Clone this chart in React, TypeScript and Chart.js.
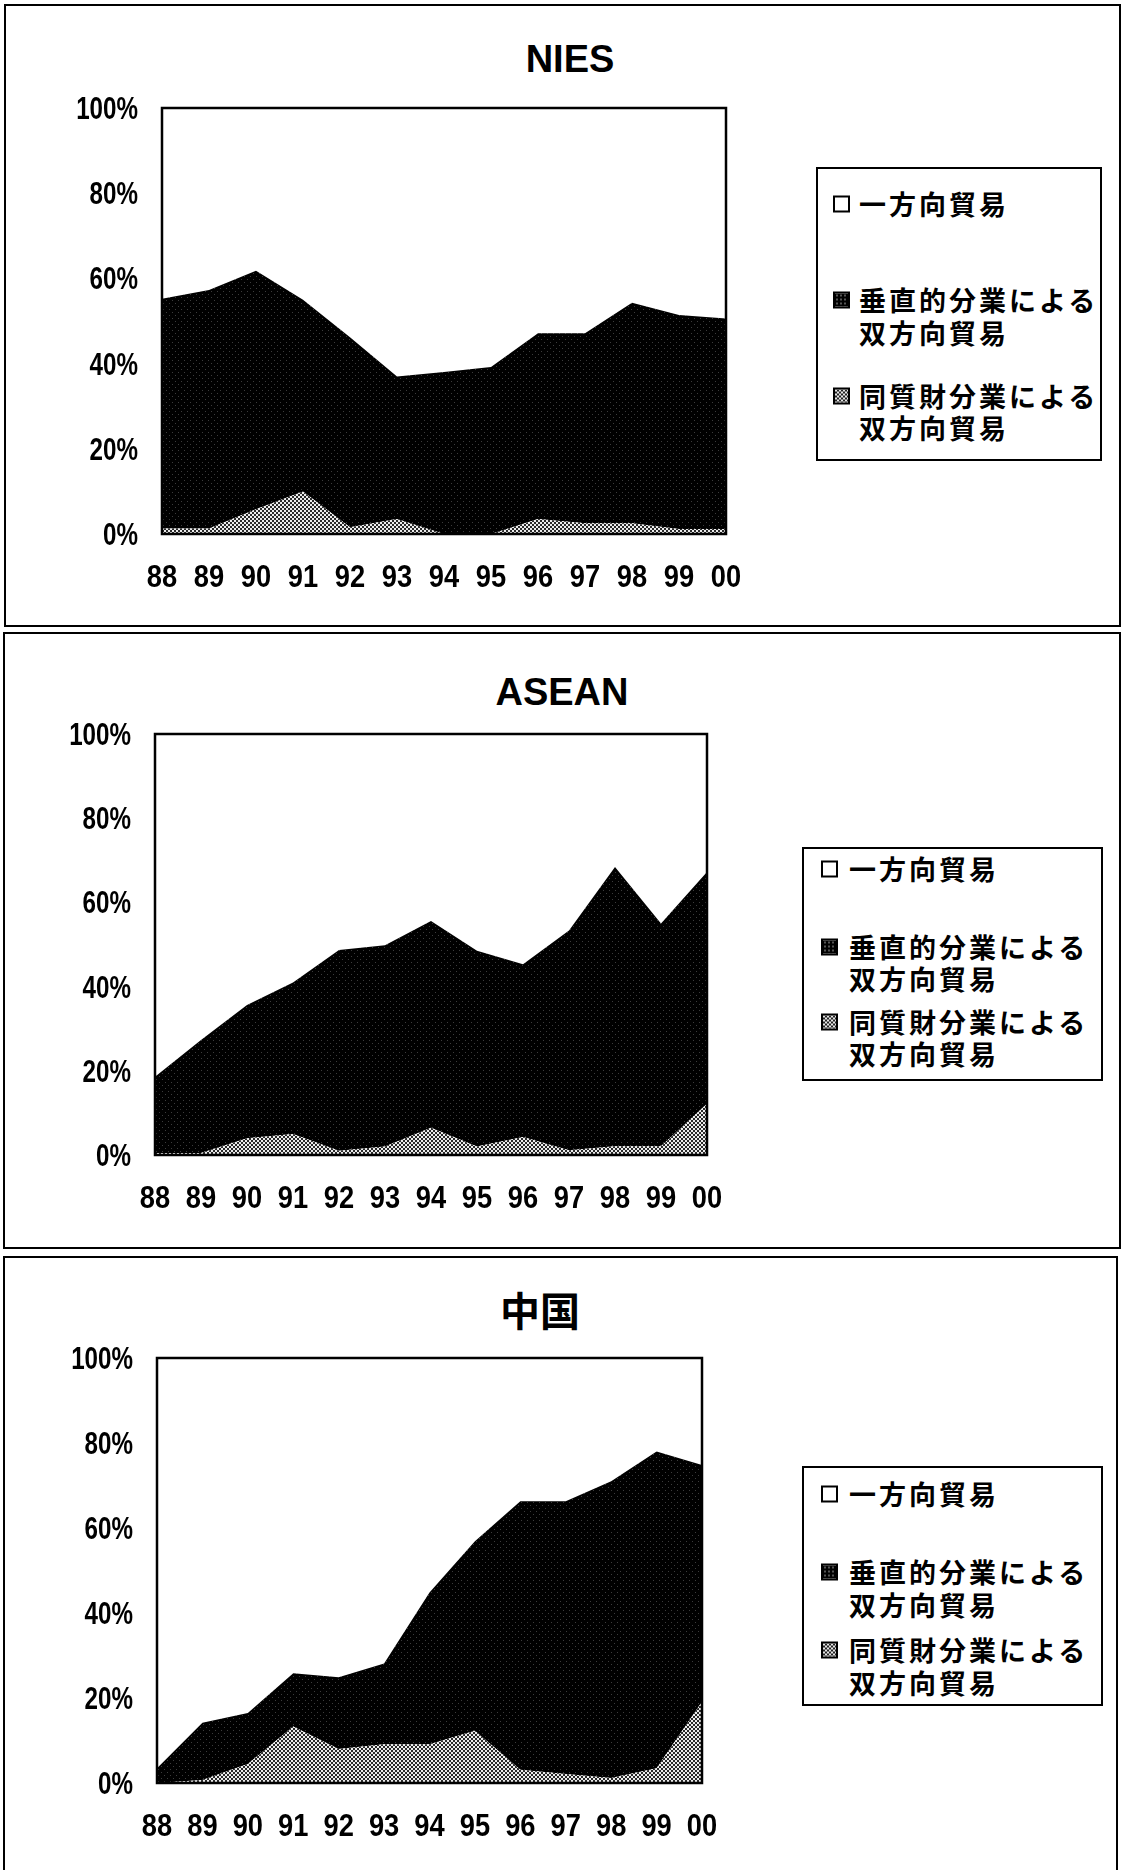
import React, { useEffect, useRef } from "react";
import { Chart, registerables } from "chart.js";

Chart.register(...registerables);

// Years on the horizontal axis (1988–2000)
const years = ["88", "89", "90", "91", "92", "93", "94", "95", "96", "97", "98", "99", "00"];
const yTickStep = 20;

// Trade structure shares (%), three components that stack to 100
// NIES
const niesHorizontal = [1.3, 1.3, 5.8, 10.0, 1.6, 3.5, 0.0, 0.0, 3.5, 2.5, 2.5, 1.2, 1.2];
const niesVertical = [53.9, 56.0, 56.0, 45.0, 44.6, 33.5, 38.0, 39.2, 43.6, 44.6, 51.8, 50.2, 49.4];
const niesOneWay = [44.8, 42.7, 38.2, 45.0, 53.8, 63.0, 62.0, 60.8, 52.9, 52.9, 45.7, 48.6, 49.4];

// ASEAN
const aseanHorizontal = [0.5, 0.5, 4.0, 5.0, 1.0, 2.0, 6.5, 2.0, 4.3, 1.1, 2.1, 2.1, 12.2];
const aseanVertical = [18.1, 26.8, 31.6, 36.0, 47.7, 47.8, 49.1, 46.5, 41.0, 52.2, 66.3, 52.9, 55.0];
const aseanOneWay = [81.4, 72.7, 64.4, 59.0, 51.3, 50.2, 44.4, 51.5, 54.7, 46.7, 31.6, 45.0, 32.8];

// China
const chinaHorizontal = [0.0, 0.7, 4.5, 13.3, 8.0, 9.1, 9.1, 12.3, 3.1, 2.1, 1.2, 3.5, 19.1];
const chinaVertical = [3.5, 13.5, 12.0, 12.5, 16.9, 19.0, 35.7, 44.6, 63.2, 64.2, 69.8, 74.5, 55.7];
const chinaOneWay = [96.5, 85.8, 83.5, 74.2, 75.1, 71.9, 55.2, 43.1, 33.7, 33.7, 29.0, 22.0, 25.2];

// Legend labels (each may span two lines)
const labelOneWay = ["一方向貿易"];
const labelVertical = ["垂直的分業による", "双方向貿易"];
const labelHorizontal = ["同質財分業による", "双方向貿易"];

const NUM_FONT = "'Liberation Sans', Arial, sans-serif";
const JP_FONT = "'Noto Sans CJK JP', 'Noto Sans CJK SC', sans-serif";
const TICK_SIZE = 31;
const Y_SQUEEZE = 0.78; // narrow numerals on the value axis
const X_SQUEEZE = 0.88; // narrow numerals on the year axis
const Y_LABEL_GAP = 24;
const X_LABEL_DROP = 42;

type Rect = { left: number; top: number; right: number; bottom: number };

type PanelSpec = {
  title: string;
  titleX: number;
  titleY: number;
  titleFont: string;
  titleSize: number;
  frame: Rect;
  plot: Rect;
  legend: Rect;
  legendRows: number[]; // centre of each text line, relative to legend top
  markerX: number;
  textX: number;
  horizontal: number[];
  vertical: number[];
  oneWay: number[];
};

const panels: PanelSpec[] = [
  {
    title: "NIES",
    titleX: 570,
    titleY: 59,
    titleFont: NUM_FONT,
    titleSize: 38,
    frame: { left: 4, top: 4, right: 1121, bottom: 627 },
    plot: { left: 162, top: 108, right: 726, bottom: 534 },
    legend: { left: 816, top: 167, right: 1102, bottom: 461 },
    legendRows: [35, 131, 164, 227, 259],
    markerX: 15,
    textX: 41,
    horizontal: niesHorizontal,
    vertical: niesVertical,
    oneWay: niesOneWay,
  },
  {
    title: "ASEAN",
    titleX: 562,
    titleY: 692,
    titleFont: NUM_FONT,
    titleSize: 38,
    frame: { left: 3, top: 632, right: 1121, bottom: 1249 },
    plot: { left: 155, top: 734, right: 707, bottom: 1155 },
    legend: { left: 802, top: 847, right: 1103, bottom: 1081 },
    legendRows: [20, 98, 130, 173, 205],
    markerX: 17,
    textX: 45,
    horizontal: aseanHorizontal,
    vertical: aseanVertical,
    oneWay: aseanOneWay,
  },
  {
    title: "中国",
    titleX: 540,
    titleY: 1309,
    titleFont: JP_FONT,
    titleSize: 40,
    frame: { left: 3, top: 1256, right: 1118, bottom: 1890 },
    plot: { left: 157, top: 1358, right: 702, bottom: 1783 },
    legend: { left: 802, top: 1466, right: 1103, bottom: 1706 },
    legendRows: [26, 104, 137, 182, 215],
    markerX: 17,
    textX: 45,
    horizontal: chinaHorizontal,
    vertical: chinaVertical,
    oneWay: chinaOneWay,
  },
];

const AXIS_W = 140;
const AXIS_H = 70;
const PAD_TOP = 30;
const PAD_RIGHT = 40;

function makePattern(
  ctx: CanvasRenderingContext2D,
  size: number,
  draw: (g: CanvasRenderingContext2D) => void
): CanvasPattern | string {
  const c = document.createElement("canvas");
  c.width = size;
  c.height = size;
  const g = c.getContext("2d");
  if (!g) return "#000";
  draw(g);
  return ctx.createPattern(c, "repeat") || "#000";
}

// Frame around the plotting area
const plotFrame = {
  id: "plotFrame",
  afterDatasetsDraw(chart: any) {
    const { ctx, chartArea: a } = chart;
    ctx.save();
    ctx.strokeStyle = "#000";
    ctx.lineWidth = 2.5;
    ctx.strokeRect(a.left, a.top, a.right - a.left, a.bottom - a.top);
    ctx.restore();
  },
};

// Narrow numeric tick labels placed from the chart's own scales
const narrowTicks = {
  id: "narrowTicks",
  afterDraw(chart: any) {
    const { ctx, chartArea: a, scales } = chart;
    const xs = scales.x;
    const ys = scales.y;
    const capHalf = (TICK_SIZE * 0.716) / 2;
    ctx.save();
    ctx.fillStyle = "#000";
    ctx.font = `bold ${TICK_SIZE}px ${NUM_FONT}`;
    ctx.textBaseline = "alphabetic";

    ctx.textAlign = "right";
    ys.ticks.forEach((t: any) => {
      const y = ys.getPixelForValue(t.value);
      ctx.save();
      ctx.translate(a.left - Y_LABEL_GAP, y + capHalf);
      ctx.scale(Y_SQUEEZE, 1);
      ctx.fillText(`${t.value}%`, 0, 0);
      ctx.restore();
    });

    ctx.textAlign = "center";
    (chart.data.labels as string[]).forEach((lab, i) => {
      const x = xs.getPixelForTick(i);
      ctx.save();
      ctx.translate(x, a.bottom + X_LABEL_DROP + capHalf);
      ctx.scale(X_SQUEEZE, 1);
      ctx.fillText(lab, 0, 0);
      ctx.restore();
    });
    ctx.restore();
  },
};

function AreaPanel({ spec }: { spec: PanelSpec }) {
  const ref = useRef<HTMLCanvasElement | null>(null);
  const { plot } = spec;
  const cLeft = plot.left - AXIS_W;
  const cTop = plot.top - PAD_TOP;
  const cW = plot.right - plot.left + AXIS_W + PAD_RIGHT;
  const cH = plot.bottom - plot.top + PAD_TOP + AXIS_H;

  useEffect(() => {
    const canvas = ref.current;
    if (!canvas) return;
    const ctx = canvas.getContext("2d");
    if (!ctx) return;

    // dark halftone for vertical intra-industry trade
    const darkFill = makePattern(ctx, 6, (g) => {
      g.fillStyle = "#000";
      g.fillRect(0, 0, 6, 6);
      g.fillStyle = "#3c3c3c";
      g.fillRect(0, 0, 1, 1);
      g.fillRect(3, 3, 1, 1);
    });
    // checkered grey for horizontal intra-industry trade
    const checkFill = makePattern(ctx, 4, (g) => {
      g.fillStyle = "#ececec";
      g.fillRect(0, 0, 4, 4);
      g.fillStyle = "#2a2a2a";
      g.fillRect(0, 0, 2, 2);
      g.fillRect(2, 2, 2, 2);
    });

    const chart = new Chart(ctx, {
      type: "line",
      data: {
        labels: years,
        datasets: [
          {
            label: labelHorizontal.join(""),
            data: spec.horizontal,
            backgroundColor: checkFill as any,
            borderWidth: 0,
            pointRadius: 0,
            fill: "origin",
          },
          {
            label: labelVertical.join(""),
            data: spec.vertical,
            backgroundColor: darkFill as any,
            borderWidth: 0,
            pointRadius: 0,
            fill: "-1",
          },
          {
            label: labelOneWay.join(""),
            data: spec.oneWay,
            backgroundColor: "#ffffff",
            borderWidth: 0,
            pointRadius: 0,
            fill: "-1",
          },
        ],
      },
      options: {
        animation: false,
        responsive: false,
        devicePixelRatio: 1,
        layout: { padding: { left: 0, top: PAD_TOP, right: PAD_RIGHT, bottom: 0 } },
        plugins: {
          legend: { display: false },
          tooltip: { enabled: false },
          title: { display: false },
        },
        elements: { line: { tension: 0 } },
        scales: {
          x: {
            offset: false,
            grid: { display: false, drawTicks: false },
            border: { display: false },
            ticks: { display: false, autoSkip: false, maxRotation: 0 },
            afterFit: (scale: any) => {
              scale.height = AXIS_H;
            },
          },
          y: {
            stacked: true,
            min: 0,
            max: 100,
            grid: { display: false, drawTicks: false },
            border: { display: false },
            ticks: { display: false, stepSize: yTickStep },
            afterFit: (scale: any) => {
              scale.width = AXIS_W;
            },
          },
        },
      },
      plugins: [plotFrame, narrowTicks],
    });
    return () => chart.destroy();
  }, [spec]);

  const lg = spec.legend;
  const rows = spec.legendRows;
  const textStyle: React.CSSProperties = {
    position: "absolute",
    left: spec.textX,
    fontFamily: JP_FONT,
    fontSize: 27,
    fontWeight: 700,
    letterSpacing: "3px",
    lineHeight: "30px",
    height: 30,
    whiteSpace: "nowrap",
    color: "#000",
    transform: "translateY(-50%)",
  };
  const markerBase: React.CSSProperties = {
    position: "absolute",
    left: spec.markerX,
    width: 17,
    height: 17,
    boxSizing: "border-box",
    border: "2px solid #000",
    transform: "translateY(-50%)",
  };

  return (
    <>
      <div
        style={{
          position: "absolute",
          left: spec.frame.left,
          top: spec.frame.top,
          width: spec.frame.right - spec.frame.left,
          height: spec.frame.bottom - spec.frame.top,
          border: "2px solid #000",
          boxSizing: "border-box",
        }}
      />
      <div
        style={{
          position: "absolute",
          left: spec.titleX,
          top: spec.titleY,
          transform: "translate(-50%, -50%)",
          fontFamily: spec.titleFont,
          fontSize: spec.titleSize,
          fontWeight: 700,
          lineHeight: 1,
          whiteSpace: "nowrap",
          color: "#000",
        }}
      >
        {spec.title}
      </div>
      <canvas
        ref={ref}
        width={cW}
        height={cH}
        style={{ position: "absolute", left: cLeft, top: cTop, width: cW, height: cH }}
      />
      <div
        style={{
          position: "absolute",
          left: lg.left,
          top: lg.top,
          width: lg.right - lg.left,
          height: lg.bottom - lg.top,
          border: "2px solid #000",
          boxSizing: "border-box",
          background: "#fff",
        }}
      >
        <div style={{ ...markerBase, top: rows[0], background: "#fff" }} />
        <div style={{ ...textStyle, top: rows[0] }}>{labelOneWay[0]}</div>

        <div
          style={{
            ...markerBase,
            top: rows[1],
            background: "radial-gradient(circle, #555 0 1px, #000 1px) 0 0/4px 4px",
          }}
        />
        <div style={{ ...textStyle, top: rows[1] }}>{labelVertical[0]}</div>
        <div style={{ ...textStyle, top: rows[2] }}>{labelVertical[1]}</div>

        <div
          style={{
            ...markerBase,
            top: rows[3],
            background: "repeating-conic-gradient(#222 0 25%, #e6e6e6 0 50%) 0 0/4px 4px",
          }}
        />
        <div style={{ ...textStyle, top: rows[3] }}>{labelHorizontal[0]}</div>
        <div style={{ ...textStyle, top: rows[4] }}>{labelHorizontal[1]}</div>
      </div>
    </>
  );
}

export default function App() {
  return (
    <div
      style={{
        position: "absolute",
        left: 0,
        top: 0,
        width: 1124,
        height: 1870,
        overflow: "hidden",
        background: "#fff",
      }}
    >
      {panels.map((p) => (
        <AreaPanel key={p.title} spec={p} />
      ))}
    </div>
  );
}
